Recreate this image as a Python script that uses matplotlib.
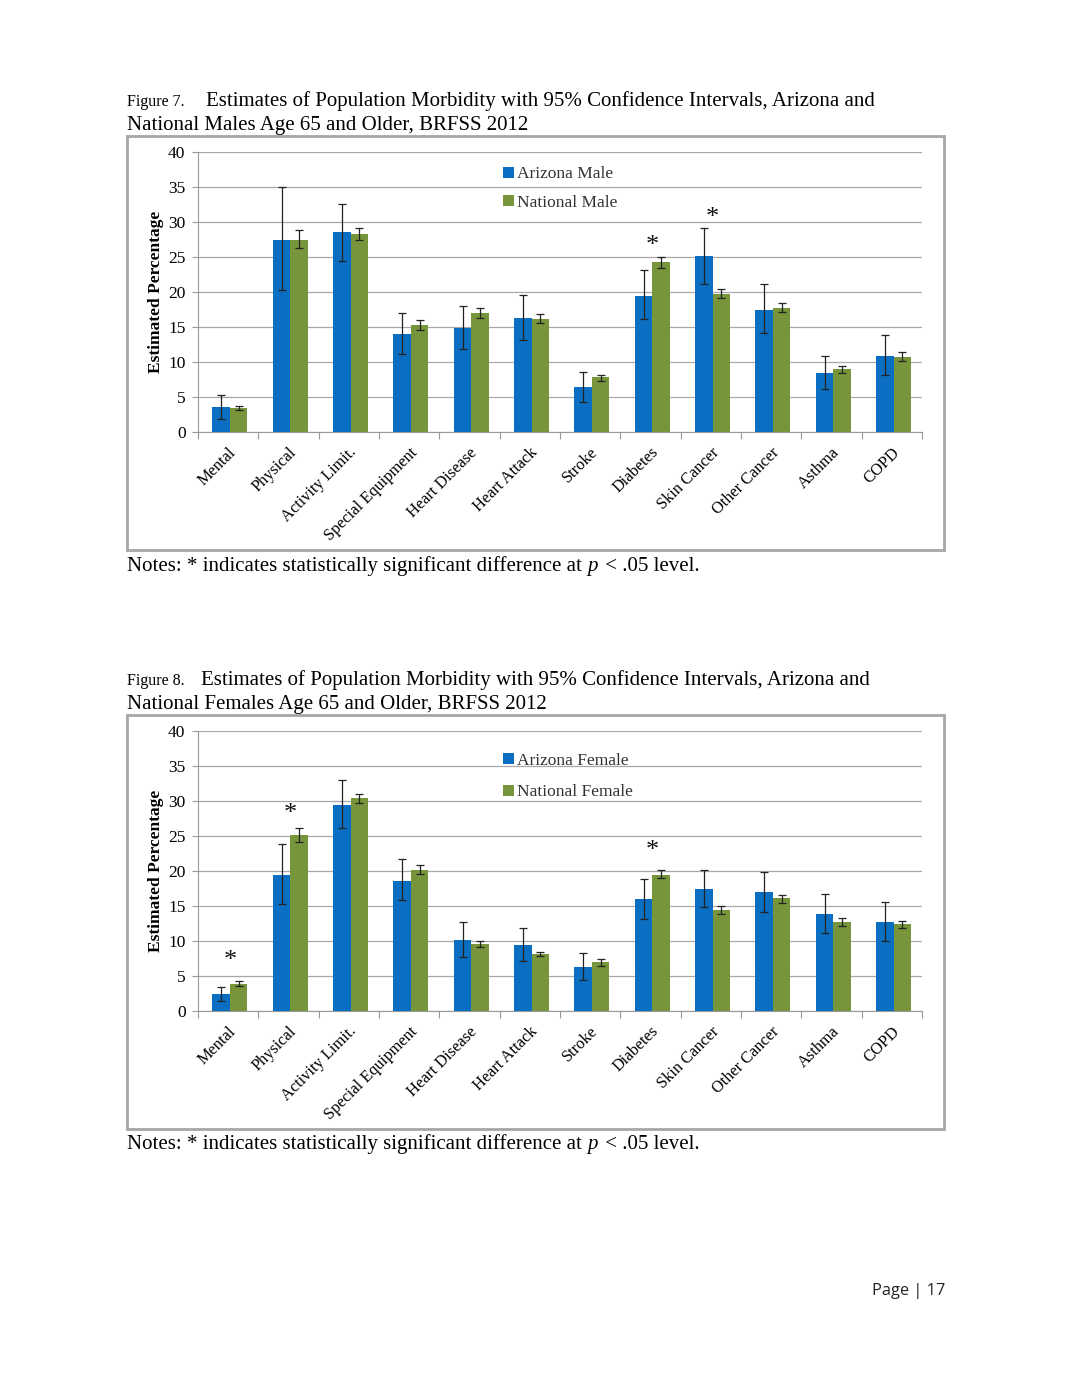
import matplotlib
matplotlib.use("Agg")
import matplotlib.pyplot as plt
from matplotlib.patches import Rectangle
import numpy as np

categories = ["Mental", "Physical", "Activity Limit.", "Special Equipment", "Heart Disease",
              "Heart Attack", "Stroke", "Diabetes", "Skin Cancer", "Other Cancer", "Asthma", "COPD"]

# Figure 7 - Males
az_male = [3.6, 27.5, 28.6, 14.0, 14.8, 16.3, 6.4, 19.5, 25.1, 17.5, 8.4, 10.9]
az_male_lo = [1.9, 20.3, 24.5, 11.2, 11.8, 13.1, 4.3, 16.1, 21.2, 14.2, 6.1, 8.1]
az_male_hi = [5.3, 35.0, 32.6, 17.0, 18.0, 19.6, 8.6, 23.1, 29.1, 21.1, 10.9, 13.8]
nat_male = [3.4, 27.5, 28.3, 15.3, 17.0, 16.2, 7.8, 24.3, 19.7, 17.7, 9.0, 10.7]
nat_male_lo = [3.1, 26.3, 27.4, 14.6, 16.3, 15.6, 7.3, 23.4, 19.1, 17.1, 8.5, 10.2]
nat_male_hi = [3.7, 28.8, 29.1, 16.0, 17.7, 16.9, 8.2, 25.0, 20.4, 18.4, 9.4, 11.4]
male_sig_idx = [7, 8]
male_sig_y = [26.6, 30.6]

# Figure 8 - Females
az_female = [2.5, 19.5, 29.5, 18.6, 10.2, 9.4, 6.3, 16.0, 17.4, 17.0, 13.9, 12.7]
az_female_lo = [1.5, 15.3, 26.2, 15.8, 7.7, 7.2, 4.4, 13.1, 14.8, 14.2, 11.2, 10.0]
az_female_hi = [3.4, 23.9, 33.0, 21.7, 12.7, 11.8, 8.3, 18.9, 20.1, 19.9, 16.7, 15.6]
nat_female = [3.9, 25.1, 30.4, 20.2, 9.6, 8.1, 7.0, 19.5, 14.4, 16.1, 12.7, 12.4]
nat_female_lo = [3.6, 24.2, 29.7, 19.6, 9.2, 7.8, 6.5, 19.0, 13.9, 15.5, 12.1, 11.9]
nat_female_hi = [4.3, 26.2, 31.0, 20.9, 10.0, 8.5, 7.4, 20.1, 15.0, 16.6, 13.3, 12.9]
female_sig_idx = [0, 1, 7]
female_sig_y = [7.2, 28.1, 22.8]

yticks = [0, 5, 10, 15, 20, 25, 30, 35, 40]

BLUE = "#0a6fc2"
GREEN = "#77953b"
SERIF = ["Liberation Serif", "DejaVu Serif"]

W, H = 1071, 1386
fig = plt.figure(figsize=(W / 100, H / 100), dpi=100)
fig.patch.set_facecolor("white")


def px_axes(x0, y0, x1, y1):
    return fig.add_axes([x0 / W, 1 - y1 / H, (x1 - x0) / W, (y1 - y0) / H])


def draw_chart(ax, az, az_lo, az_hi, nat, nat_lo, nat_hi, labels, sig_idx, sig_y, spacing, leg_y):
    x = np.arange(len(categories))
    bw = 0.29
    az = np.array(az); nat = np.array(nat)
    az_err = [az - np.array(az_lo), np.array(az_hi) - az]
    nat_err = [nat - np.array(nat_lo), np.array(nat_hi) - nat]
    ax.bar(x - bw / 2 + 0.03, az, bw, color=BLUE, label=labels[0], zorder=3,
           yerr=az_err, error_kw=dict(ecolor="#222222", elinewidth=0.9, capsize=3, capthick=0.9))
    ax.bar(x + bw / 2 + 0.03, nat, bw, color=GREEN, label=labels[1], zorder=3,
           yerr=nat_err, error_kw=dict(ecolor="#222222", elinewidth=0.9, capsize=3, capthick=0.9))
    for i, yv in zip(sig_idx, sig_y):
        ax.text(i + 0.03, yv, "*", ha="center", va="center", fontsize=19,
                family=SERIF, color="#111111", zorder=4)
    ax.set_xlim(-0.5, len(categories) - 0.5)
    ax.set_ylim(0, 40)
    ax.set_yticks(yticks)
    ax.set_yticklabels([str(v) for v in yticks], family=SERIF, fontsize=12.5)
    ax.yaxis.grid(True, color="#a8a8a8", lw=0.9, zorder=0)
    ax.set_axisbelow(True)
    ax.set_xticks(np.arange(-0.5, len(categories), 1.0))
    ax.set_xticklabels([])
    ax.tick_params(axis="x", length=5, color="#999999", direction="out")
    ax.tick_params(axis="y", length=4, color="#999999", direction="out", pad=5)
    ax.set_xticks(x, minor=True)
    ax.set_xticklabels(categories, minor=True, rotation=45, ha="right",
                       rotation_mode="anchor", family=SERIF, fontsize=11.8)
    ax.tick_params(axis="x", which="minor", length=0, pad=9)
    for s in ["top", "right"]:
        ax.spines[s].set_visible(False)
    ax.spines["left"].set_color("#999999")
    ax.spines["bottom"].set_color("#999999")
    ax.set_ylabel("Estimated Percentage", family=SERIF, fontsize=12.5, fontweight="bold", labelpad=3)
    leg = ax.legend(loc="upper left", bbox_to_anchor=(0.40, leg_y), frameon=False,
                    prop=dict(family=SERIF, size=12.5), handlelength=0.6, handleheight=0.6,
                    handletextpad=0.2, labelspacing=spacing)
    for t in leg.get_texts():
        t.set_color("#333333")


# chart frames
for (y0, y1) in [(136, 550), (715, 1129)]:
    fig.add_artist(Rectangle((127 / W, 1 - y1 / H), (944 - 127) / W, (y1 - y0) / H,
                             transform=fig.transFigure, facecolor="none",
                             edgecolor="#a6a6a6", lw=2.0))

ax1 = px_axes(198, 152, 922, 432)
draw_chart(ax1, az_male, az_male_lo, az_male_hi, nat_male, nat_male_lo, nat_male_hi,
           ["Arizona Male", "National Male"], male_sig_idx, male_sig_y, 0.72, 1.005)
ax2 = px_axes(198, 731, 922, 1011)
draw_chart(ax2, az_female, az_female_lo, az_female_hi, nat_female, nat_female_lo, nat_female_hi,
           ["Arizona Female", "National Female"], female_sig_idx, female_sig_y, 0.9, 0.978)


def ftext(xp, yp, s, **kw):
    return fig.text(xp / W, 1 - yp / H, s, va="baseline", ha="left", family=SERIF, **kw)


# Titles
ftext(127, 106, "Figure 7.", fontsize=11.5)
ftext(206, 106, "Estimates of Population Morbidity with 95% Confidence Intervals, Arizona and", fontsize=15)
ftext(127, 130, "National Males Age 65 and Older, BRFSS 2012", fontsize=15)

ftext(127, 685, "Figure 8.", fontsize=11.5)
ftext(201, 685, "Estimates of Population Morbidity with 95% Confidence Intervals, Arizona and", fontsize=15)
ftext(127, 709, "National Females Age 65 and Older, BRFSS 2012", fontsize=15)

# Notes (with italic p)
fig.canvas.draw()
renderer = fig.canvas.get_renderer()
for yb in [571, 1149]:
    t1 = ftext(127, yb, "Notes: * indicates statistically significant difference at ", fontsize=15)
    bb = t1.get_window_extent(renderer)
    t2 = ftext(bb.x1, yb, "p", fontsize=15, style="italic")
    bb2 = t2.get_window_extent(renderer)
    ftext(bb2.x1 + 2, yb, " < .05 level.", fontsize=15)

fig.text(945 / W, 1 - 1295 / H, "Page | 17", ha="right", va="baseline",
         family=["Open Sans", "DejaVu Sans"], fontsize=11.8, color="#222222")

fig.savefig("out.png", dpi=100, facecolor="white")
